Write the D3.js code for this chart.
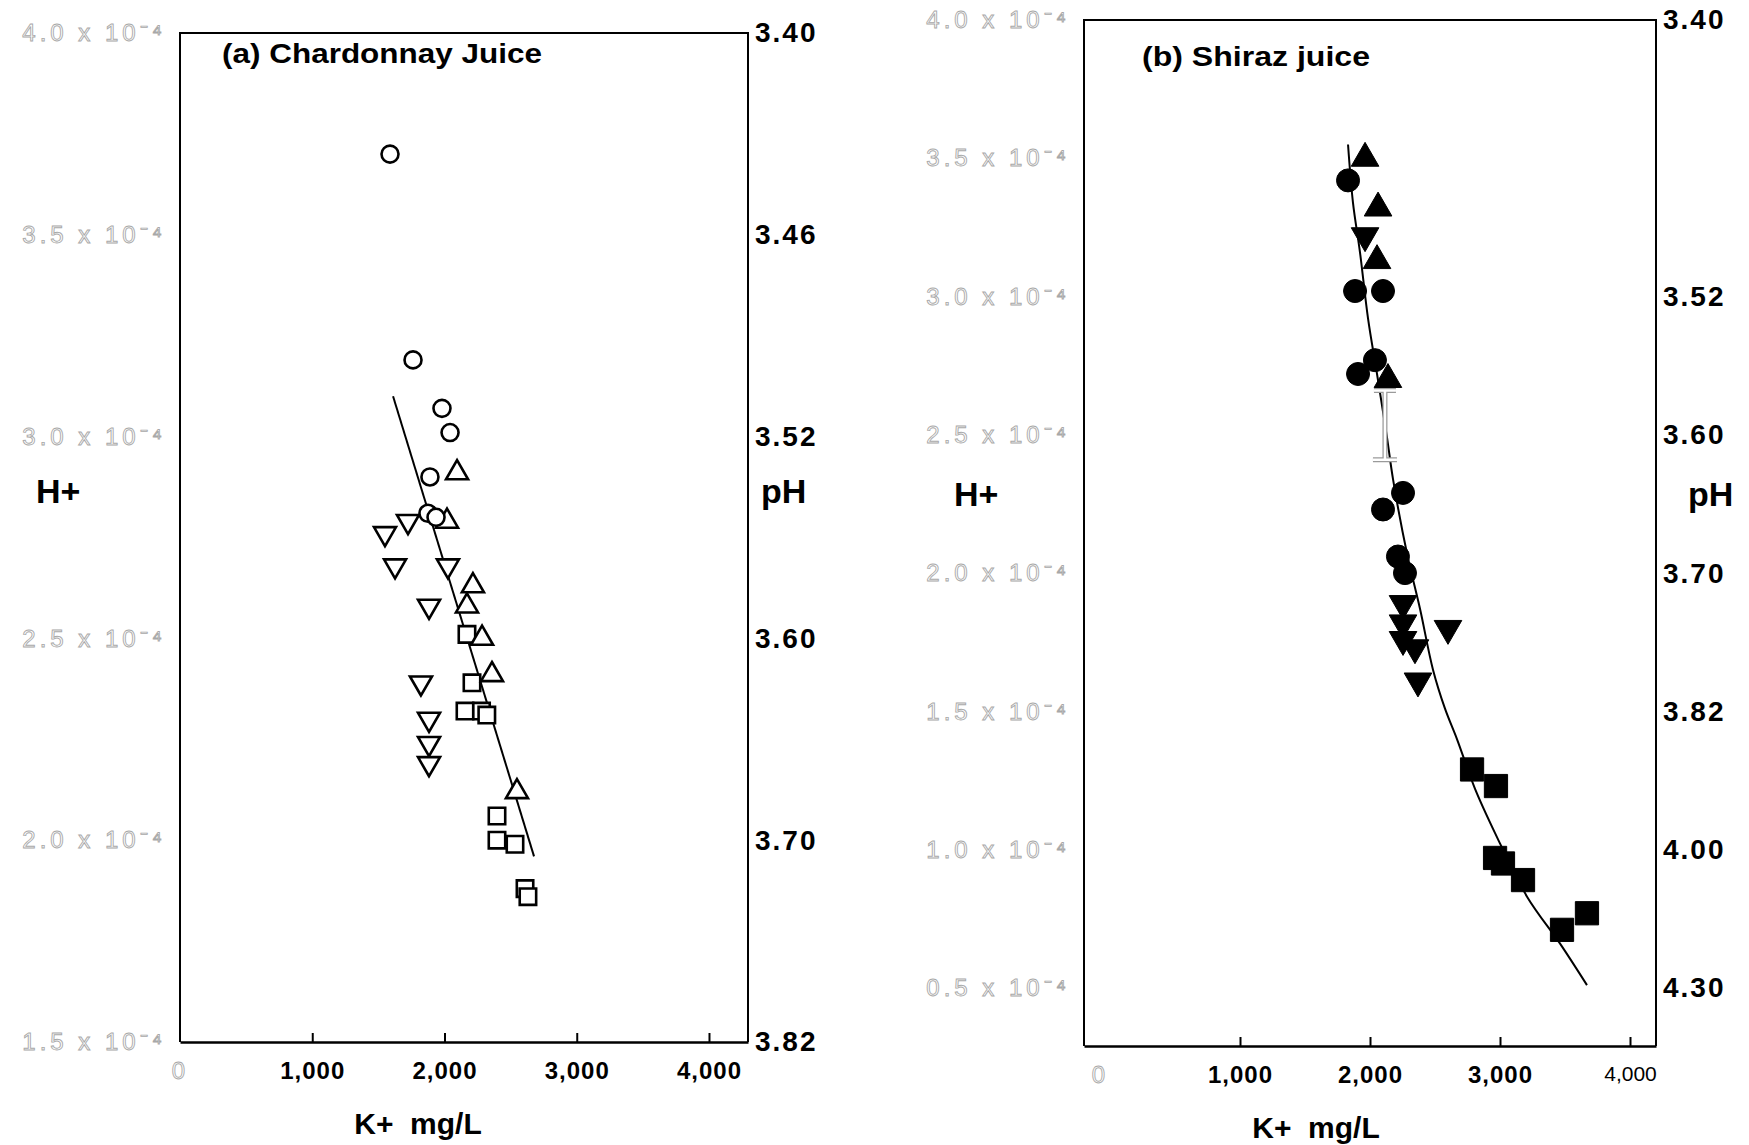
<!DOCTYPE html>
<html>
<head>
<meta charset="utf-8">
<title>H+ vs K+ in juice</title>
<script src="https://cdn.jsdelivr.net/npm/d3@7"></script>
<style>
  body { margin: 0; background: #fff; }
  text { font-family: "Liberation Sans", Arial, sans-serif; fill: #000; }
  .hollow { fill: #fff; stroke: #a8a8a8; stroke-width: 0.9; font-size: 24px; letter-spacing: 4px; font-weight: normal; }
  .ph { font-weight: bold; font-size: 28px; letter-spacing: 2px; }
  .kt { font-weight: bold; font-size: 24px; letter-spacing: 1px; }
  .ttl { font-weight: bold; font-size: 27px; }
  .lab { font-weight: bold; font-size: 34px; }
  .klab { font-weight: bold; font-size: 30px; white-space: pre; }
  .frame { fill: none; stroke: #000; stroke-width: 2; }
</style>
</head>
<body>
<script>
// K+ in mg/L, H+ in units of 10^-4 mol/L
var kTicks = [0, 1000, 2000, 3000, 4000];

// (a) Chardonnay juice
var hTicksA = [4.0, 3.5, 3.0, 2.5, 2.0, 1.5];
var phAtA = [4.0, 3.5, 3.0, 2.5, 2.0, 1.5];
var phLabelsA = ["3.40", "3.46", "3.52", "3.60", "3.70", "3.82"];

var chardCircles = [[1588, 3.70], [1762, 3.19], [1981, 3.07], [2042, 3.01],
                    [1890, 2.90], [1875, 2.81], [1936, 2.80]];
var chardTriUp = [[2095, 2.91], [2019, 2.79], [2215, 2.63], [2170, 2.58],
                  [2284, 2.50], [2359, 2.41], [2548, 2.12]];
var chardTriDown = [[1724, 2.79], [1550, 2.76], [1626, 2.68], [2026, 2.68],
                    [1883, 2.58], [1822, 2.39], [1883, 2.30], [1883, 2.24], [1883, 2.19]];
var chardSquares = [[2170, 2.51], [2208, 2.39], [2155, 2.32], [2280, 2.32], [2320, 2.31],
                    [2397, 2.06], [2397, 2.00], [2533, 1.99], [2609, 1.88], [2631, 1.86]];
var chardFit = [[1611, 3.10], [2677, 1.96]];

// (b) Shiraz juice
var hTicksB = [4.0, 3.5, 3.0, 2.5, 2.0, 1.5, 1.0, 0.5];
var phAtB = [4.0, 3.0, 2.5, 2.0, 1.5, 1.0, 0.5];
var phLabelsB = ["3.40", "3.52", "3.60", "3.70", "3.82", "4.00", "4.30"];

var shirazCircles = [[1831, 3.42], [1885, 3.02], [2100, 3.02], [1908, 2.72], [2038, 2.77],
                     [2254, 2.29], [2100, 2.23], [2215, 2.06], [2269, 2.00]];
var shirazTriUp = [[1962, 3.50], [2062, 3.32], [2054, 3.13], [2138, 2.70]];
var shirazTriDown = [[1962, 3.22], [2254, 1.89], [2254, 1.82], [2254, 1.76],
                     [2346, 1.73], [2369, 1.61], [2600, 1.80]];
var shirazSquares = [[2785, 1.29], [2969, 1.23], [2962, 0.97], [3023, 0.95],
                     [3177, 0.89], [3477, 0.71], [3669, 0.77]];
var shirazCurve = [[1831, 3.55], [1869, 3.34], [1923, 3.16], [1985, 2.92], [2054, 2.72],
                   [2131, 2.49], [2177, 2.34], [2285, 2.07], [2385, 1.87], [2485, 1.65],
                   [2577, 1.51], [2669, 1.40], [2808, 1.22], [2962, 1.06], [3208, 0.83],
                   [3462, 0.66], [3669, 0.51]];
var shirazErr = [2115, 2.41, 2.66];

var svg = d3.select("body").append("svg")
    .attr("width", 1749)
    .attr("height", 1145);

var panels = [
  {
    x: d3.scaleLinear().domain([0, 4295]).range([180, 748]),
    y: d3.scaleLinear().domain([1.5, 4.0]).range([1042, 33]),
    hTicks: hTicksA, phAt: phAtA, phLabels: phLabelsA,
    circles: chardCircles, triUp: chardTriUp, triDown: chardTriDown, squares: chardSquares,
    fit: chardFit, curve: d3.curveLinear, filled: false,
    r: 8.5, tri: 210, sq: 270,
    title: "(a) Chardonnay Juice", titleX: 222, titleY: 63, titleW: 320,
    hX: 36, hY: 503, pX: 761, pY: 503, kX: 418, kY: 1134
  },
  {
    x: d3.scaleLinear().domain([-200, 4200]).range([1084, 1656]),
    y: d3.scaleLinear().domain([0.29, 4.0]).range([1046, 20]),
    hTicks: hTicksB, phAt: phAtB, phLabels: phLabelsB,
    circles: shirazCircles, triUp: shirazTriUp, triDown: shirazTriDown, squares: shirazSquares,
    fit: shirazCurve, curve: d3.curveCatmullRom, filled: true,
    r: 11.5, tri: 330, sq: 540, err: shirazErr,
    title: "(b) Shiraz juice", titleX: 1142, titleY: 66, titleW: 228,
    hX: 954, hY: 506, pX: 1688, pY: 506, kX: 1316, kY: 1138
  }
];

panels.forEach(function(p) {
  var g = svg.append("g");
  var x0 = p.x.range()[0], x1 = p.x.range()[1],
      yb = p.y.range()[0], yt = p.y.range()[1];

  // frame: left, top, right
  g.append("path")
    .attr("class", "frame")
    .attr("d", "M" + x0 + "," + yb + "V" + yt + "H" + x1 + "V" + yb);

  // bottom K+ axis
  var xa = g.append("g")
    .attr("transform", "translate(0," + yb + ")")
    .call(d3.axisBottom(p.x).tickValues(kTicks).tickSize(-9).tickSizeOuter(0)
          .tickPadding(20).tickFormat(d3.format(",")));
  xa.select(".domain").attr("stroke-width", 2.5);
  xa.selectAll(".tick line").attr("stroke-width", 2)
    .attr("display", function(d) { return d === 0 ? "none" : null; });
  xa.selectAll(".tick text").attr("class", function(d) { return d === 0 ? "hollow" : "kt"; })
    .attr("dx", function(d) { return d === 0 ? (p.filled ? -10 : 0) : 0; });
  if (p.filled) {
    xa.selectAll(".tick text").filter(function(d) { return d === 4000; })
      .style("font-weight", "normal").style("font-size", "21px").style("letter-spacing", "0px");
  }

  // left H+ labels (faint)
  var la = g.append("g")
    .attr("transform", "translate(" + x0 + ",0)")
    .call(d3.axisLeft(p.y).tickValues(p.hTicks).tickSize(0).tickPadding(14)
          .tickFormat(function(d) { return d.toFixed(1) + " x 10⁻⁴"; }));
  la.select(".domain").remove();
  la.selectAll(".tick text").attr("class", "hollow");

  // right pH labels
  var ra = g.append("g")
    .attr("transform", "translate(" + x1 + ",0)")
    .call(d3.axisRight(p.y).tickValues(p.phAt).tickSize(0).tickPadding(7)
          .tickFormat(function(d, i) { return p.phLabels[i]; }));
  ra.select(".domain").remove();
  ra.selectAll(".tick text").attr("class", "ph");

  // fitted line
  g.append("path")
    .datum(p.fit)
    .attr("fill", "none")
    .attr("stroke", "#000")
    .attr("stroke-width", 2)
    .attr("d", d3.line().x(function(d) { return p.x(d[0]); })
                        .y(function(d) { return p.y(d[1]); }).curve(p.curve));

  // error bar (faint, panel b)
  if (p.err) {
    var ex = p.x(p.err[0]), e1 = p.y(p.err[1]), e2 = p.y(p.err[2]);
    var eb = "M" + ex + "," + e1 + "V" + e2 + "M" + (ex - 11) + "," + e2 + "H" + (ex + 11) +
             "M" + (ex - 12) + "," + e1 + "H" + (ex + 12);
    g.append("path").attr("d", eb).attr("fill", "none").attr("stroke", "#9a9a9a").attr("stroke-width", 5);
    g.append("path").attr("d", eb).attr("fill", "none").attr("stroke", "#fff").attr("stroke-width", 2.5);
  }

  var fill = p.filled ? "#000" : "#fff";
  function style(sel) {
    sel.attr("fill", fill).attr("stroke", "#000").attr("stroke-width", p.filled ? 1 : 2.6);
  }

  g.selectAll(".sq").data(p.squares).join("path").attr("class", "sq")
    .attr("d", d3.symbol().type(d3.symbolSquare).size(p.sq))
    .attr("transform", function(d) { return "translate(" + p.x(d[0]) + "," + p.y(d[1]) + ")"; })
    .call(style);

  g.selectAll(".tu").data(p.triUp).join("path").attr("class", "tu")
    .attr("d", d3.symbol().type(d3.symbolTriangle).size(p.tri))
    .attr("transform", function(d) { return "translate(" + p.x(d[0]) + "," + p.y(d[1]) + ")"; })
    .call(style);

  g.selectAll(".td").data(p.triDown).join("path").attr("class", "td")
    .attr("d", d3.symbol().type(d3.symbolTriangle).size(p.tri))
    .attr("transform", function(d) { return "translate(" + p.x(d[0]) + "," + p.y(d[1]) + ") rotate(180)"; })
    .call(style);

  g.selectAll(".ci").data(p.circles).join("circle").attr("class", "ci")
    .attr("cx", function(d) { return p.x(d[0]); })
    .attr("cy", function(d) { return p.y(d[1]); })
    .attr("r", p.r)
    .call(style);

  // titles and axis names
  g.append("text").attr("class", "ttl").attr("x", p.titleX).attr("y", p.titleY)
    .attr("textLength", p.titleW).attr("lengthAdjust", "spacingAndGlyphs").text(p.title);
  g.append("text").attr("class", "lab").attr("x", p.hX).attr("y", p.hY).text("H+");
  g.append("text").attr("class", "lab").attr("x", p.pX).attr("y", p.pY).text("pH");
  g.append("text").attr("class", "klab").attr("x", p.kX).attr("y", p.kY)
    .attr("text-anchor", "middle").text("K+  mg/L");
});
</script>
</body>
</html>
